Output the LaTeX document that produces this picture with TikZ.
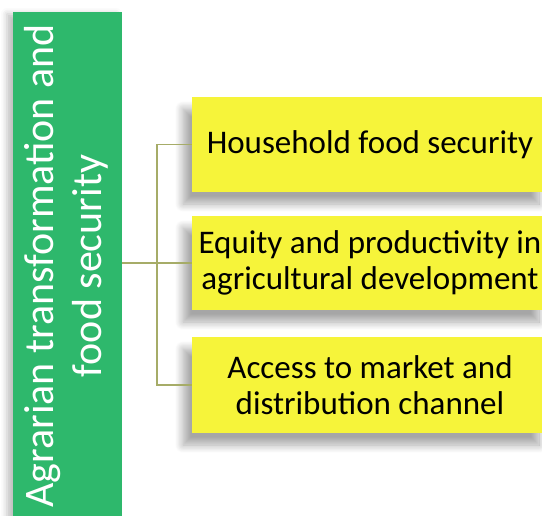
\documentclass[tikz,border=0pt]{standalone}
\usepackage{fontspec}
\setmainfont{Carlito}
\usetikzlibrary{shadows.blur}
\definecolor{leafgreen}{RGB}{46,184,108}
\definecolor{lemon}{RGB}{246,244,58}
\definecolor{olive}{RGB}{166,172,104}
\tikzset{
  gbox/.style={fill=leafgreen, text=white, minimum width=109pt, minimum height=508pt,
    inner sep=0pt, blur shadow={shadow xshift=-6pt, shadow yshift=-2pt, shadow opacity=25,
    shadow blur radius=6pt}},
  ybox/.style={fill=lemon, text=black, minimum width=356pt, inner sep=0pt,
    align=center, font=\fontsize{33}{36}\selectfont,
    blur shadow={shadow xshift=-9pt, shadow yshift=-12pt, shadow opacity=35,
    shadow blur radius=8pt, shadow blur steps=10}},
  link/.style={draw=olive, line width=1.4pt}
}
\begin{document}
\begin{tikzpicture}[x=1pt,y=-1pt]
      \useasboundingbox (0,0) rectangle (542,516);
      \node[gbox] (agri) at (67.5,266)
        {\rotatebox{90}{\fontsize{42}{48}\selectfont
          \begin{tabular}{@{}c@{}}Agrarian transformation and\\food security\end{tabular}}};
      \node[ybox, minimum height=95pt] (household) at (370,144.5) {Household food security};
      \node[ybox, minimum height=94pt] (equity) at (370,263)
        {Equity and productivity in\\agricultural development};
      \node[ybox, minimum height=96pt] (access) at (370,385)
        {Access to market and\\distribution channel};
      \coordinate (hub) at (157,263);
      \begin{scope}[link]
        \draw (agri.east |- equity.west) -- (equity.west);
        \draw (household.west) -| (hub |- access.west) -- (access.west);
      \end{scope}
    \end{tikzpicture}
\end{document}
